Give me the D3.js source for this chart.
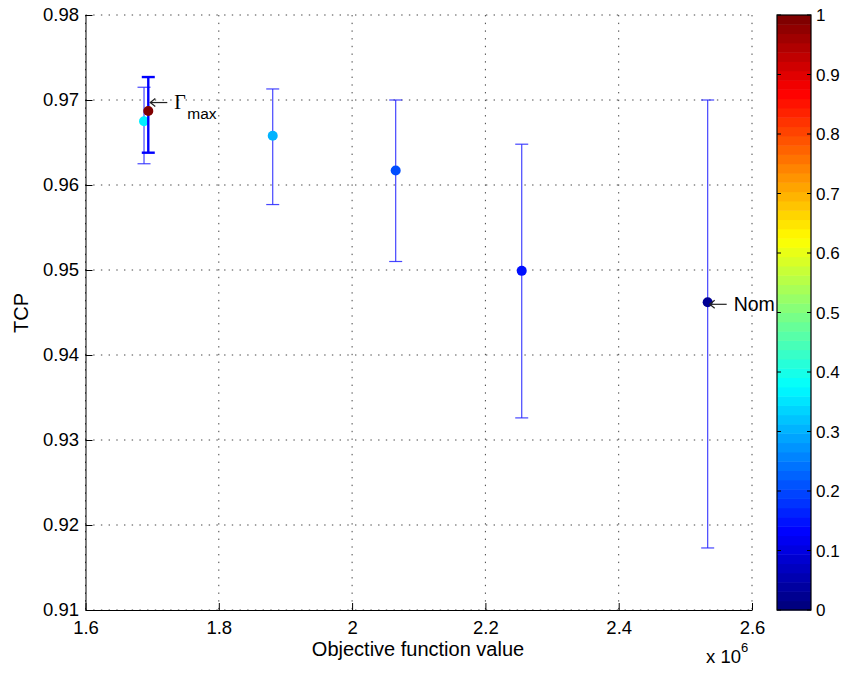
<!DOCTYPE html>
<html>
<head>
<meta charset="utf-8">
<script src="https://cdn.jsdelivr.net/npm/d3@7"></script>
<style>
  html, body { margin: 0; padding: 0; background: #fff; }
  svg { display: block; font-family: "Liberation Sans", Arial, sans-serif; }
</style>
</head>
<body>
<svg id="chart" width="845" height="673"></svg>
<script>
// Objective function value (x 10^6) against TCP, with TCP spread as error bars
const objective = [1.6878, 1.6942, 1.8809, 2.0654, 2.2545, 2.5335];
const tcpMean   = [0.9675, 0.9687, 0.9658, 0.9617, 0.9499, 0.9462];
const tcpLow    = [0.9625, 0.9638, 0.9577, 0.9510, 0.9326, 0.9173];
const tcpHigh   = [0.9715, 0.9727, 0.9713, 0.9700, 0.9648, 0.9700];
const colorVal  = [0.36, 1.0, 0.30, 0.20, 0.14, 0.02];
const boldBar   = [false, true, false, false, false, false];

const xTicks = [1.6, 1.8, 2.0, 2.2, 2.4, 2.6];
const yTicks = [0.91, 0.92, 0.93, 0.94, 0.95, 0.96, 0.97, 0.98];
const cbTicks = [0, 0.1, 0.2, 0.3, 0.4, 0.5, 0.6, 0.7, 0.8, 0.9, 1];

const svg = d3.select("#chart");
const plot = { left: 85.5, right: 752, top: 15, bottom: 610 };
const x = d3.scaleLinear().domain([1.6, 2.6]).range([plot.left, plot.right]);
const y = d3.scaleLinear().domain([0.91, 0.98]).range([plot.bottom, plot.top]);

// jet colormap
function jet(t) {
  const c = v => Math.max(0, Math.min(1, v));
  const r = c(1.5 - Math.abs(4 * t - 3));
  const g = c(1.5 - Math.abs(4 * t - 2));
  const b = c(1.5 - Math.abs(4 * t - 1));
  return d3.rgb(r * 255, g * 255, b * 255).formatHex();
}

// dotted grid
const grid = svg.append("g").attr("stroke", "#444").attr("stroke-width", 1)
  .attr("stroke-dasharray", "1.4,6.3");
grid.selectAll(".gx").data(xTicks).join("line")
  .attr("x1", d => x(d)).attr("x2", d => x(d))
  .attr("y1", plot.top).attr("y2", plot.bottom);
grid.selectAll(".gy").data(yTicks).join("line")
  .attr("x1", plot.left).attr("x2", plot.right)
  .attr("y1", d => y(d)).attr("y2", d => y(d));

// axes (left and bottom, inward ticks)
const fs = "18.5px";
const yAxis = svg.append("g").attr("transform", `translate(${plot.left},0)`)
  .call(d3.axisLeft(y).tickValues(yTicks).tickFormat(d3.format(".2f"))
    .tickSizeInner(-7).tickSizeOuter(0).tickPadding(6.5));
const xAxis = svg.append("g").attr("transform", `translate(0,${plot.bottom})`)
  .call(d3.axisBottom(x).tickValues(xTicks).tickFormat(d => d === 2 ? "2" : d3.format(".1f")(d))
    .tickSizeInner(-7).tickSizeOuter(0).tickPadding(11));
[yAxis, xAxis].forEach(a => {
  a.selectAll("text").attr("font-size", fs).attr("fill", "#000")
    .attr("font-family", "Liberation Sans, Arial, sans-serif");
  a.selectAll("line").attr("stroke", "#000");
  a.select(".domain").attr("stroke", "#000");
});

// axis titles
svg.append("text").attr("x", 418).attr("y", 656).attr("text-anchor", "middle")
  .attr("font-size", "20px").text("Objective function value");
svg.append("text").attr("transform", "translate(28,313) rotate(-90)")
  .attr("text-anchor", "middle").attr("font-size", "20px").text("TCP");
const mult = svg.append("text").attr("x", 706).attr("y", 663).attr("font-size", fs);
mult.append("tspan").text("x 10");
mult.append("tspan").attr("dy", -11).attr("font-size", "13px").text("6");

// error bars and points
const series = svg.append("g");
objective.forEach((o, i) => {
  const g = series.append("g");
  const cx = x(o);
  const bold = boldBar[i];
  const stroke = bold ? "#0000ff" : "#2626ff";
  const sw = bold ? 2.4 : 1.2;
  const op = bold ? 1 : 0.85;
  const half = 6.5;
  g.append("line").attr("x1", cx).attr("x2", cx)
    .attr("y1", y(tcpLow[i])).attr("y2", y(tcpHigh[i]))
    .attr("stroke", stroke).attr("stroke-width", sw).attr("opacity", op);
  [tcpLow[i], tcpHigh[i]].forEach(v => {
    g.append("line").attr("x1", cx - half).attr("x2", cx + half)
      .attr("y1", y(v)).attr("y2", y(v))
      .attr("stroke", stroke).attr("stroke-width", sw).attr("opacity", op);
  });
  g.append("circle").attr("cx", cx).attr("cy", y(tcpMean[i])).attr("r", 5)
    .attr("fill", jet(colorVal[i]));
});

// annotations with arrows
function arrow(x0, yy, len) {
  const a = svg.append("g").attr("stroke", "#222").attr("stroke-width", 1.2).attr("fill", "none");
  a.append("line").attr("x1", x0).attr("x2", x0 + len).attr("y1", yy).attr("y2", yy);
  a.append("path").attr("d", `M${x0 + 5},${yy - 4} L${x0},${yy} L${x0 + 5},${yy + 4}`);
}
const gx = x(objective[1]) + 2, gy = y(tcpMean[1]) - 8.5;
arrow(gx, gy, 17);
svg.append("text").attr("x", gx + 24).attr("y", gy + 6).attr("font-size", "20px")
  .attr("font-family", "Liberation Serif, Times New Roman, serif").text("Γ");
svg.append("text").attr("x", gx + 37).attr("y", gy + 16).attr("font-size", "15.5px").text("max");

const nx = x(objective[5]) + 2, ny = y(tcpMean[5]) + 2;
arrow(nx, ny, 17);
svg.append("text").attr("x", nx + 24).attr("y", ny + 6.5).attr("font-size", "19.5px").text("Nom");

// colorbar
const cb = { left: 777, right: 811, top: 15, bottom: 610 };
const cbY = d3.scaleLinear().domain([0, 1]).range([cb.bottom, cb.top]);
const nBands = 64;
const bands = d3.range(nBands);
svg.append("g").selectAll("rect").data(bands).join("rect")
  .attr("x", cb.left).attr("width", cb.right - cb.left)
  .attr("y", i => cbY((i + 1) / nBands))
  .attr("height", i => cbY(i / nBands) - cbY((i + 1) / nBands) + 0.5)
  .attr("fill", i => jet(i / (nBands - 1)));
svg.append("rect").attr("x", cb.left).attr("y", cb.top)
  .attr("width", cb.right - cb.left).attr("height", cb.bottom - cb.top)
  .attr("fill", "none").attr("stroke", "#000").attr("stroke-width", 1.2);
const cbT = svg.append("g");
cbT.selectAll(".tl").data(cbTicks).join("line")
  .attr("x1", cb.left).attr("x2", cb.left + 4).attr("y1", d => cbY(d)).attr("y2", d => cbY(d))
  .attr("stroke", "#000");
cbT.selectAll(".tr").data(cbTicks).join("line")
  .attr("x1", cb.right - 4).attr("x2", cb.right).attr("y1", d => cbY(d)).attr("y2", d => cbY(d))
  .attr("stroke", "#000");
cbT.selectAll("text").data(cbTicks).join("text")
  .attr("x", cb.right + 5).attr("y", d => cbY(d)).attr("dy", "0.36em")
  .attr("font-size", "17px").text(d => d3.format("~g")(d));
</script>
</body>
</html>
